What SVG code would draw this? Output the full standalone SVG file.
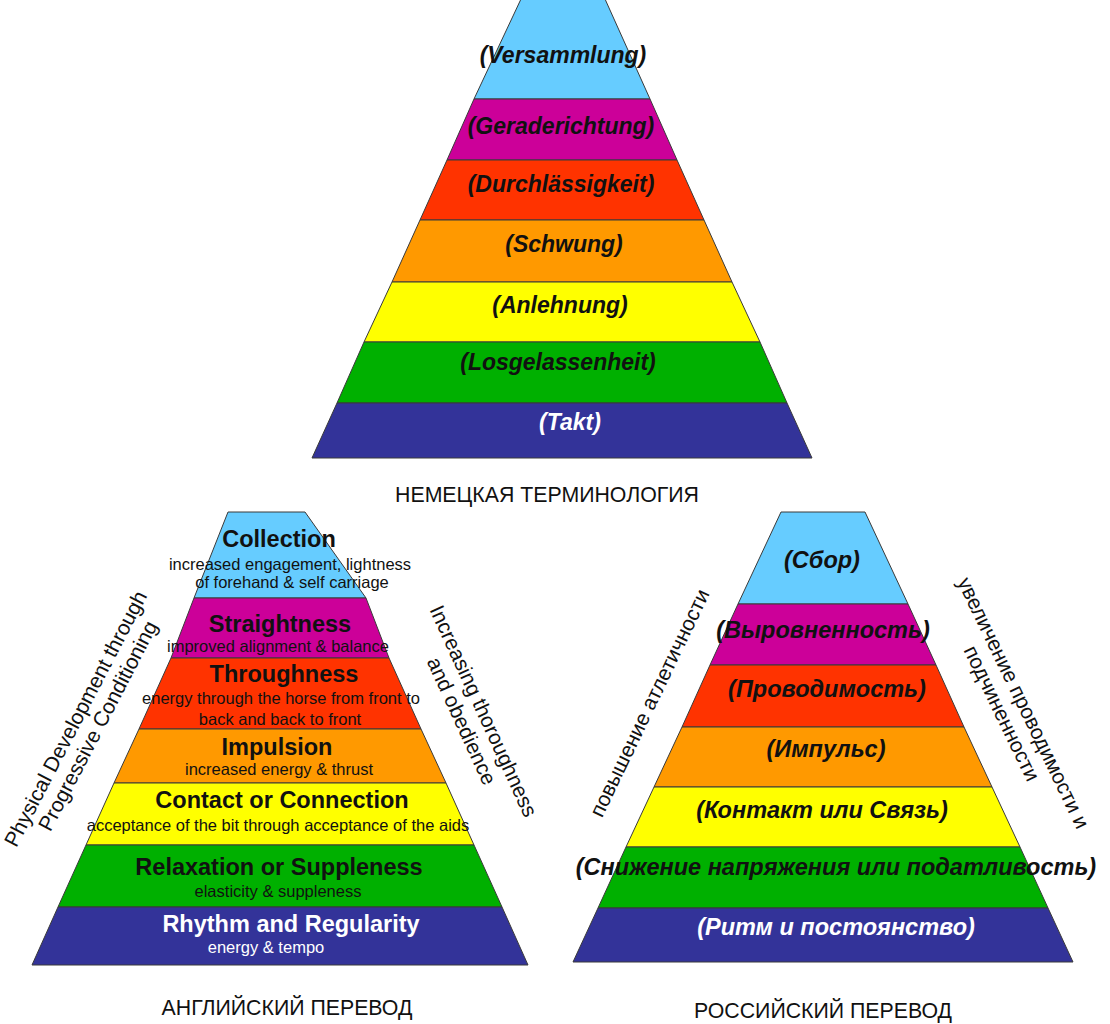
<svg xmlns="http://www.w3.org/2000/svg" width="1110" height="1024" viewBox="0 0 1110 1024">
<style>
.band{stroke:#3a3a3a;stroke-width:1;stroke-linejoin:miter}
.b1{fill:#66CCFF}.b2{fill:#CC0099}.b3{fill:#FF3300}.b4{fill:#FF9900}.b5{fill:#FFFF00}.b6{fill:#00B000}.b7{fill:#333399}
.de{font-family:"Liberation Sans",Arial,sans-serif;font-weight:bold;font-style:italic;font-size:23px;text-anchor:middle;fill:#111}
.ru{font-family:"Liberation Sans",Arial,sans-serif;font-weight:bold;font-style:italic;font-size:23.5px;text-anchor:middle;fill:#111}
.t{font-family:"Liberation Sans",Arial,sans-serif;font-weight:bold;font-size:23.5px;text-anchor:middle;fill:#111}
.s{font-family:"Liberation Sans",Arial,sans-serif;font-size:16.5px;text-anchor:middle;fill:#111}
.w{fill:#fff}
.cap{font-family:"Liberation Sans",Arial,sans-serif;font-size:21.3px;text-anchor:middle;fill:#111}
.side{font-family:"Liberation Sans",Arial,sans-serif;font-size:21px;text-anchor:middle;fill:#111}
</style>
<rect width="1110" height="1024" fill="#fff"/>

<g id="german-pyramid">
  <g id="de-versammlung"><polygon class="band b1" points="521,-1 605,-1 650,99 474,99"/><text class="de" x="563" y="63">(Versammlung)</text></g>
  <g id="de-geraderichtung"><polygon class="band b2" points="474,99 650,99 677,160 447,160"/><text class="de" x="561" y="134">(Geraderichtung)</text></g>
  <g id="de-durchlaessigkeit"><polygon class="band b3" points="447,160 677,160 704,220 420,220"/><text class="de" x="561" y="192">(Durchlässigkeit)</text></g>
  <g id="de-schwung"><polygon class="band b4" points="420,220 704,220 732,282 392,282"/><text class="de" x="564" y="252">(Schwung)</text></g>
  <g id="de-anlehnung"><polygon class="band b5" points="392,282 732,282 760,342 364,342"/><text class="de" x="560" y="313">(Anlehnung)</text></g>
  <g id="de-losgelassenheit"><polygon class="band b6" points="364,342 760,342 787,403 337,403"/><text class="de" x="558" y="370">(Losgelassenheit)</text></g>
  <g id="de-takt"><polygon class="band b7" points="337,403 787,403 812,458 312,458"/><text class="de w" x="570" y="430">(Takt)</text></g>
  <text id="de-caption" class="cap" x="547" y="502">НЕМЕЦКАЯ ТЕРМИНОЛОГИЯ</text>
</g>

<g id="english-pyramid">
  <g id="en-collection"><polygon class="band b1" points="228,512 305,512 366,598 194,598"/>
    <text class="t" x="279" y="547">Collection</text>
    <text class="s" x="290" y="570">increased engagement, lightness</text>
    <text class="s" x="292" y="588">of forehand &amp; self carriage</text></g>
  <g id="en-straightness"><polygon class="band b2" points="194,598 366,598 389,658 171,658"/>
    <text class="t" x="280" y="632">Straightness</text>
    <text class="s" x="278" y="652">improved alignment &amp; balance</text></g>
  <g id="en-throughness"><polygon class="band b3" points="171,658 389,658 421,729 139,729"/>
    <text class="t" x="284" y="682">Throughness</text>
    <text class="s" x="281" y="704">energy through the horse from front to</text>
    <text class="s" x="280" y="725">back and back to front</text></g>
  <g id="en-impulsion"><polygon class="band b4" points="139,729 421,729 446,783 114,783"/>
    <text class="t" x="277" y="755">Impulsion</text>
    <text class="s" x="279" y="775">increased energy &amp; thrust</text></g>
  <g id="en-contact"><polygon class="band b5" points="114,783 446,783 474,845 86,845"/>
    <text class="t" x="282" y="808">Contact or Connection</text>
    <text class="s" x="278" y="831">acceptance of the bit through acceptance of the aids</text></g>
  <g id="en-relaxation"><polygon class="band b6" points="86,845 474,845 502,907 58,907"/>
    <text class="t" x="279" y="875">Relaxation or Suppleness</text>
    <text class="s" x="278" y="897">elasticity &amp; suppleness</text></g>
  <g id="en-rhythm"><polygon class="band b7" points="58,907 502,907 528,965 32,965"/>
    <text class="t w" x="291" y="932">Rhythm and Regularity</text>
    <text class="s w" x="266" y="953">energy &amp; tempo</text></g>
  <text id="en-left-side" class="side" transform="translate(82,722) rotate(-62.5)"><tspan x="0" y="0">Physical Development through</tspan><tspan x="4" y="23">Progressive Conditioning</tspan></text>
  <text id="en-right-side" class="side" transform="translate(477,714) rotate(65.4)"><tspan x="0" y="0">Increasing thoroughness</tspan><tspan x="0" y="24">and obedience</tspan></text>
  <text id="en-caption" class="cap" x="287" y="1015">АНГЛИЙСКИЙ ПЕРЕВОД</text>
</g>

<g id="russian-pyramid">
  <g id="ru-sbor"><polygon class="band b1" points="781,512 865,512 908,604 738,604"/><text class="ru" x="822" y="568">(Сбор)</text></g>
  <g id="ru-vyrovnennost"><polygon class="band b2" points="738,604 908,604 936,665 710,665"/><text class="ru" x="823" y="638">(Выровненность)</text></g>
  <g id="ru-provodimost"><polygon class="band b3" points="710,665 936,665 964,727 682,727"/><text class="ru" x="827" y="697">(Проводимость)</text></g>
  <g id="ru-impuls"><polygon class="band b4" points="682,727 964,727 992,787 654,787"/><text class="ru" x="826" y="757">(Импульс)</text></g>
  <g id="ru-kontakt"><polygon class="band b5" points="654,787 992,787 1020,847 626,847"/><text class="ru" x="822" y="818">(Контакт или Связь)</text></g>
  <g id="ru-snizhenie"><polygon class="band b6" points="626,847 1020,847 1048,908 598,908"/><text class="ru" x="836" y="875">(Снижение напряжения или податливость)</text></g>
  <g id="ru-ritm"><polygon class="band b7" points="598,908 1048,908 1073,962 573,962"/><text class="ru w" x="836" y="935">(Ритм и постоянство)</text></g>
  <text id="ru-left-side" class="side" transform="translate(656,706) rotate(-64.4)">повышение атлетичности</text>
  <text id="ru-right-side" class="side" transform="translate(1017,706) rotate(64.2)"><tspan x="0" y="0">увеличение проводимости и</tspan><tspan x="0" y="24">подчиненности</tspan></text>
  <text id="ru-caption" class="cap" x="823" y="1018">РОССИЙСКИЙ ПЕРЕВОД</text>
</g>
</svg>
